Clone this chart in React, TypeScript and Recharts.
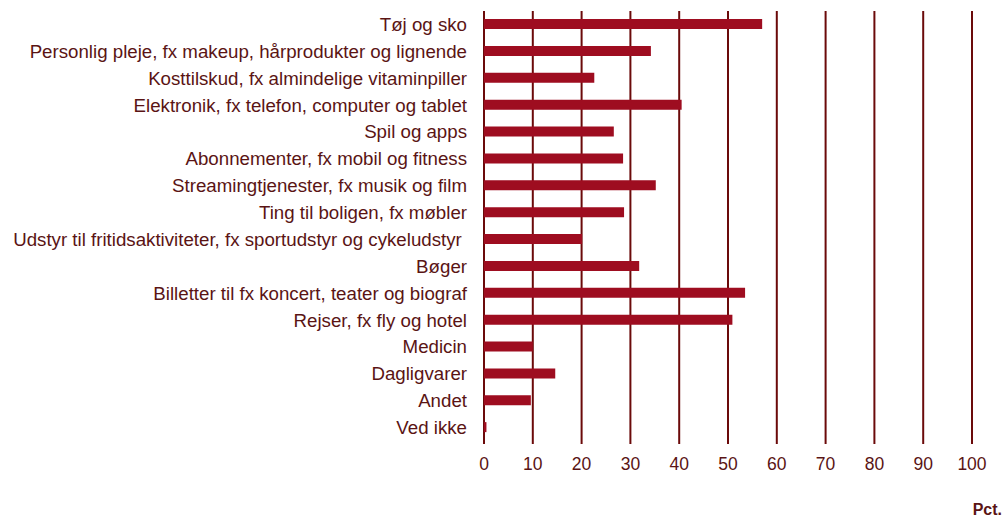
import React from "react"
import { Bar, BarChart, CartesianGrid, XAxis, YAxis } from "recharts"

const categories = [
    "Tøj og sko",
    "Personlig pleje, fx makeup, hårprodukter og lignende",
    "Kosttilskud, fx almindelige vitaminpiller",
    "Elektronik, fx telefon, computer og tablet",
    "Spil og apps",
    "Abonnementer, fx mobil og fitness",
    "Streamingtjenester, fx musik og film",
    "Ting til boligen, fx møbler",
    "Udstyr til fritidsaktiviteter, fx sportudstyr og cykeludstyr ",
    "Bøger",
    "Billetter til fx koncert, teater og biograf",
    "Rejser, fx fly og hotel",
    "Medicin",
    "Dagligvarer",
    "Andet",
    "Ved ikke",
]
const values = [57, 34.2, 22.6, 40.5, 26.6, 28.5, 35.2, 28.7, 20.1, 31.8, 53.5, 50.9, 10, 14.6, 9.6, 0.5]
const xTicks = [0, 10, 20, 30, 40, 50, 60, 70, 80, 90, 100]

const data = categories.map((name, i) => ({ name, value: values[i] }))

const textColor = "#5a1414"
const gridColor = "#6b0a0a"
const barColor = "#9e0d20"
const font = "'Liberation Sans', Arial, sans-serif"

function CategoryTick(props: any) {
    const { x, y, payload } = props
    return (
        <text x={x} y={y} dy="0.35em" textAnchor="end" fill={textColor}
            fontSize={18.7} fontFamily={font} style={{ whiteSpace: "pre" }}>
            {payload.value}
        </text>
    )
}

export default function App() {
    return (
        <div style={{ position: "absolute", left: 0, top: 0, width: 1005, height: 519, background: "#fff", fontFamily: font }}>
            <BarChart width={1005} height={519} data={data} layout="vertical"
                margin={{ top: 11, right: 33, left: 0, bottom: 0 }}>
                <CartesianGrid horizontal={false} stroke={gridColor} strokeWidth={2} strokeOpacity={1} />
                <XAxis type="number" domain={[0, 100]} ticks={xTicks} interval={0}
                    axisLine={false} tickSize={3} tickLine={{ stroke: gridColor, strokeWidth: 2 }}
                    tickMargin={14} height={78}
                    tick={{ fill: textColor, fontSize: 17.5, fontFamily: font }} />
                <YAxis type="category" dataKey="name" width={484} interval={0}
                    axisLine={false} tickLine={false} tickSize={0} tickMargin={17}
                    tick={<CategoryTick />} />
                <Bar dataKey="value" fill={barColor} barSize={10} isAnimationActive={false} />
            </BarChart>
            <div style={{ position: "absolute", right: 3, top: 501, fontSize: 16, fontWeight: "bold", color: textColor }}>Pct.</div>
        </div>
    )
}
